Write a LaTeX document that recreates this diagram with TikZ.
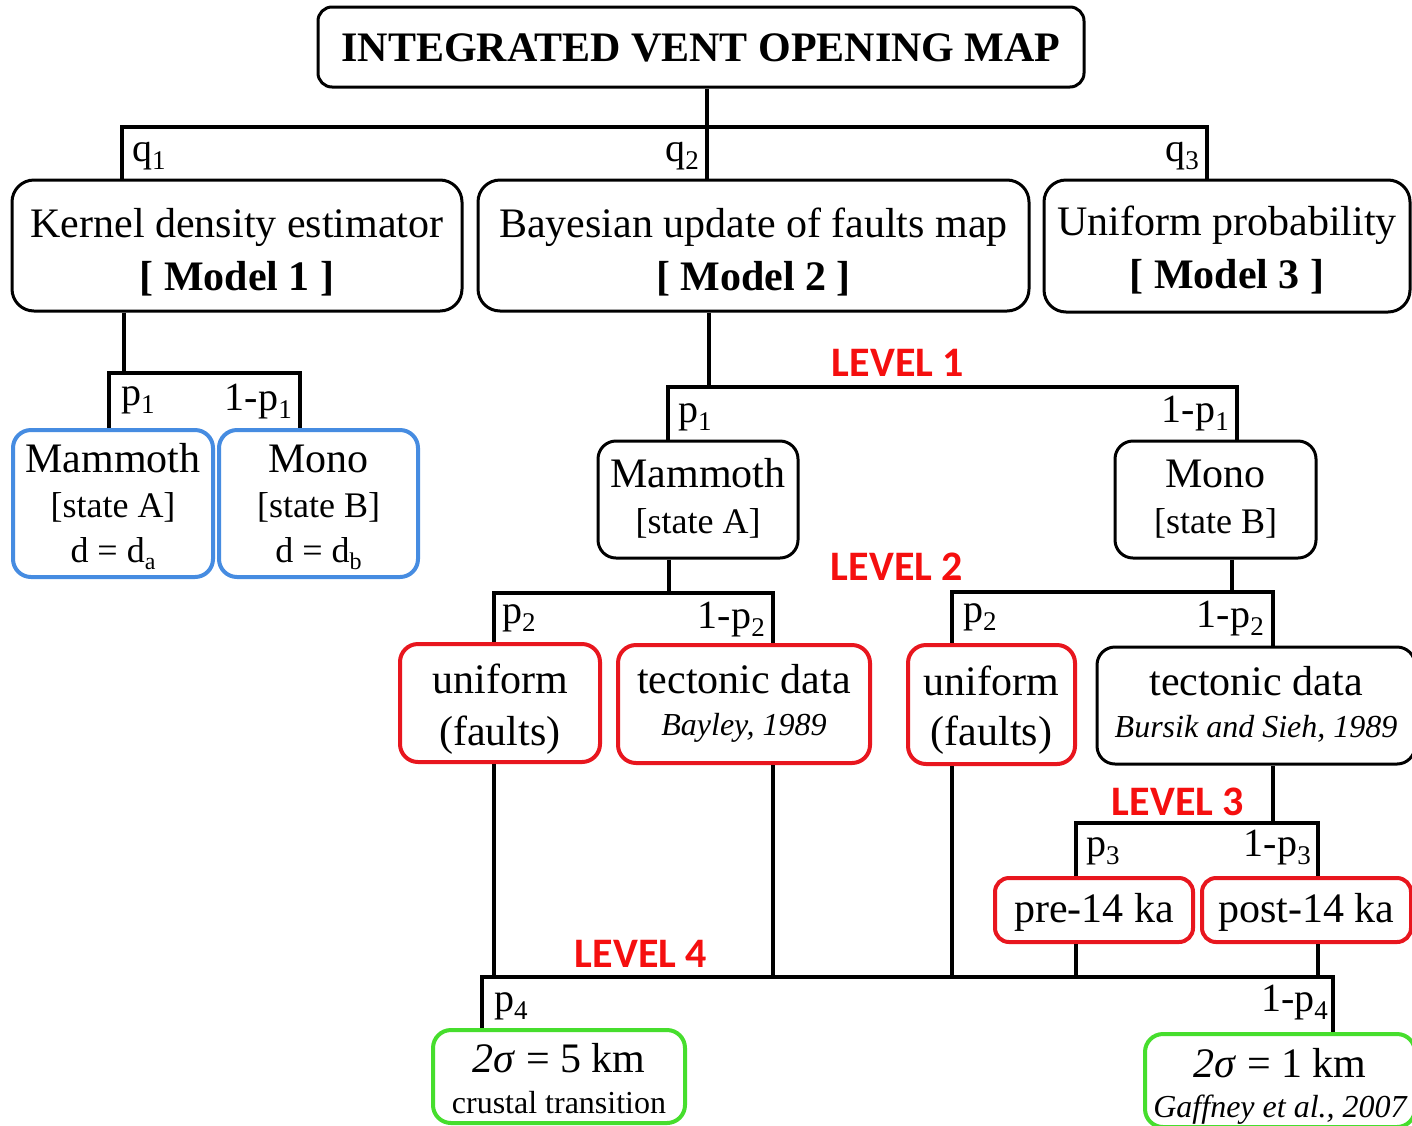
\documentclass[tikz,border=0pt]{standalone}
\usepackage{fontspec}
\setmainfont{Liberation Serif}
\newfontfamily\lvlfont{Carlito}
\usetikzlibrary{calc}

\definecolor{boxblue}{RGB}{70,140,225}
\definecolor{boxred}{RGB}{232,22,30}
\definecolor{boxgreen}{RGB}{70,222,45}
\definecolor{lvlred}{RGB}{245,15,15}

% font size / baseline skip in one go
\newcommand\setfs[2]{\fontsize{#1}{#2}\selectfont}
% lowered index: size, drop, text
\newcommand\lowidx[3]{\raisebox{-#2pt}{\setfs{#1}{#1}#3}}
% invisible struts fixing the top and bottom of a text block
\newcommand\tstrut[1]{\rule{0pt}{#1pt}}
\newcommand\bstrut[1]{\rule[-#1pt]{0pt}{#1pt}}

\begin{document}
\begin{tikzpicture}[x=1pt,y=-1pt,
  conn/.style={line width=4pt},
  boxbase/.style={rectangle, align=center, inner sep=0pt, rounded corners=18pt},
  blackbox/.style={boxbase, draw=black, line width=3pt},
  bluebox/.style={boxbase, draw=boxblue, line width=4pt},
  redbox/.style={boxbase, draw=boxred, line width=4pt},
  greenbox/.style={boxbase, draw=boxgreen, line width=4pt},
  plabel/.style={inner sep=0pt, font=\setfs{40}{40}},
  levellabel/.style={inner sep=0pt, anchor=base, text=lvlred, font=\lvlfont\bfseries\setfs{42}{42}}]

\useasboundingbox (0,0) rectangle (1412,1125);
\fill[white] (0,0) rectangle (1412,1125);
\clip (0,0) rectangle (1412,1125);

% ---------- boxes ----------
\node[blackbox, rounded corners=14pt, minimum width=766pt, minimum height=80pt,
      font=\bfseries\setfs{42}{42}] (title) at (701,47)
      {\tstrut{34}INTEGRATED VENT OPENING MAP\bstrut{6}};

\node[blackbox, rounded corners=22pt, minimum width=450pt, minimum height=131pt,
      font=\setfs{42}{53}] (m1) at (237,245.5)
      {\tstrut{48}Kernel density estimator\\\textbf{[ Model 1 ]}\bstrut{12}};
\node[blackbox, rounded corners=22pt, minimum width=551pt, minimum height=131pt,
      font=\setfs{42}{53}] (m2) at (753.5,245.5)
      {\tstrut{48}Bayesian update of faults map\\\textbf{[ Model 2 ]}\bstrut{12}};
\node[blackbox, rounded corners=22pt, minimum width=366pt, minimum height=132pt,
      font=\setfs{42}{53}] (m3) at (1227,246)
      {\tstrut{43}Uniform probability\\\textbf{[ Model 3 ]}\bstrut{12}};

\node[bluebox, minimum width=200pt, minimum height=147pt, font=\setfs{42}{45}] (mA) at (113,503.5)
      {\tstrut{41}Mammoth\\{\setfs{36}{45}[state A]}\\{\setfs{36}{45}d = d\lowidx{24}{7}{a}}\bstrut{14}};
\node[bluebox, minimum width=199pt, minimum height=147pt, font=\setfs{42}{45}] (mB) at (318.5,503.5)
      {\tstrut{41}Mono\\{\setfs{36}{45}[state B]}\\{\setfs{36}{45}d = d\lowidx{24}{7}{b}}\bstrut{14}};

\node[blackbox, minimum width=200pt, minimum height=117pt, font=\setfs{42}{46}] (m2A) at (698,499.5)
      {\tstrut{31}Mammoth\\{\setfs{36}{46}[state A]}\bstrut{10}};
\node[blackbox, minimum width=201pt, minimum height=117pt, font=\setfs{42}{46}] (m2B) at (1215.5,499.5)
      {\tstrut{31}Mono\\{\setfs{36}{46}[state B]}\bstrut{10}};

\node[redbox, minimum width=200pt, minimum height=118pt, font=\setfs{42}{52}] (u1) at (500,703)
      {\tstrut{44}uniform\\(faults)\bstrut{12}};
\node[redbox, minimum width=252pt, minimum height=118pt, font=\setfs{42}{42}] (t1) at (744,704)
      {\tstrut{32}tectonic data\\{\setfs{32}{42}\itshape Bayley, 1989}\bstrut{12}};
\node[redbox, minimum width=167pt, minimum height=119pt, font=\setfs{42}{50}] (u2) at (991.5,704.5)
      {\tstrut{43}uniform\\(faults)\bstrut{12}};
\node[blackbox, minimum width=318pt, minimum height=117pt, font=\setfs{42}{42}] (t2) at (1256,705.5)
      {\tstrut{33}tectonic data\\{\setfs{32}{42}\itshape Bursik and Sieh, 1989}\bstrut{12}};

\node[redbox, rounded corners=14pt, minimum width=198pt, minimum height=64pt, font=\setfs{42}{42}] (pre) at (1094,910)
      {\tstrut{36}pre-14 ka\bstrut{12}};
\node[redbox, rounded corners=14pt, minimum width=209pt, minimum height=64pt, font=\setfs{42}{42}] (post) at (1306.5,910)
      {\tstrut{36}post-14 ka\bstrut{12}};

\node[greenbox, minimum width=252pt, minimum height=93pt, font=\setfs{42}{41}] (g1) at (559,1076.5)
      {\tstrut{40}\textit{2σ} = 5 km\\{\setfs{32}{41}crustal transition}\bstrut{8}};
\node[greenbox, minimum width=270pt, minimum height=93pt, font=\setfs{42}{40}] (g2) at (1280,1080.5)
      {\tstrut{43}\textit{2σ} = 1 km\\{\setfs{32}{40}\itshape Gaffney et al., 2007}\bstrut{10}};

% ---------- branch points ----------
\coordinate (top) at (707,127);
\coordinate (q1c) at (122,127);
\coordinate (q3c) at (1207,127);
\coordinate (a0) at (124,373);
\coordinate (aL) at (109,373);
\coordinate (aR) at (300,373);
\coordinate (b0) at (709,387);
\coordinate (bL) at (668,387);
\coordinate (bR) at (1237,387);
\coordinate (c0) at (669,593);
\coordinate (cL) at (494,593);
\coordinate (cR) at (773,593);
\coordinate (d0) at (1232,592);
\coordinate (dL) at (952,592);
\coordinate (dR) at (1273,592);
\coordinate (e0) at (1273,823);
\coordinate (eL) at (1076,823);
\coordinate (eR) at (1318,823);
\coordinate (fL) at (482,977);
\coordinate (fR) at (1333,977);

% ---------- connectors ----------
\draw[conn] (title.south -| top) -- (m2.north -| top);
\draw[conn] (m1.north -| q1c) -- (q1c) -- (q3c) -- (m3.north -| q3c);

\draw[conn] (m1.south -| a0) -- (a0);
\draw[conn] (mA.north -| aL) -- (aL) -- (aR) -- (mB.north -| aR);

\draw[conn] (m2.south -| b0) -- (b0);
\draw[conn] (m2A.north -| bL) -- (bL) -- (bR) -- (m2B.north -| bR);

\draw[conn] (m2A.south -| c0) -- (c0);
\draw[conn] (u1.north -| cL) -- (cL) -- (cR) -- (t1.north -| cR);
\draw[conn] (m2B.south -| d0) -- (d0);
\draw[conn] (u2.north -| dL) -- (dL) -- (dR) -- (t2.north -| dR);

\draw[conn] (t2.south -| e0) -- (e0);
\draw[conn] (pre.north -| eL) -- (eL) -- (eR) -- (post.north -| eR);

\draw[conn] (g1.north -| fL) -- (fL) -- (fR) -- (g2.north -| fR);
\draw[conn] (u1.south -| cL) -- (cL |- fL);
\draw[conn] (t1.south -| cR) -- (cR |- fL);
\draw[conn] (u2.south -| dL) -- (dL |- fL);
\draw[conn] (pre.south -| eL) -- (eL |- fL);
\draw[conn] (post.south -| eR) -- (eR |- fL);

% ---------- branch probabilities ----------
\node[plabel, anchor=base west] (lq1) at ($(q1c)+(10,34)$) {q\lowidx{27}{8}{1}};
\node[plabel, anchor=base east] (lq2) at ($(top)+(-8,34)$) {q\lowidx{27}{8}{2}};
\node[plabel, anchor=base east] (lq3) at ($(q3c)+(-8,34)$) {q\lowidx{27}{8}{3}};

\node[plabel, anchor=base west] (la1) at ($(aL)+(12,32)$) {p\lowidx{27}{8}{1}};
\node[plabel, anchor=base east] (la2) at ($(aR)+(-8,37)$) {1-p\lowidx{27}{8}{1}};
\node[plabel, anchor=base west] (lb1) at ($(bL)+(10,35)$) {p\lowidx{27}{8}{1}};
\node[plabel, anchor=base east] (lb2) at ($(bR)+(-8,35)$) {1-p\lowidx{27}{8}{1}};

\node[plabel, anchor=base west] (lc1) at ($(cL)+(8,30)$) {p\lowidx{27}{8}{2}};
\node[plabel, anchor=base east] (lc2) at ($(cR)+(-8,35)$) {1-p\lowidx{27}{8}{2}};
\node[plabel, anchor=base west] (ld1) at ($(dL)+(11,30)$) {p\lowidx{27}{8}{2}};
\node[plabel, anchor=base east] (ld2) at ($(dR)+(-9,35)$) {1-p\lowidx{27}{8}{2}};

\node[plabel, anchor=base west] (le1) at ($(eL)+(10,33)$) {p\lowidx{27}{8}{3}};
\node[plabel, anchor=base east] (le2) at ($(eR)+(-7,33)$) {1-p\lowidx{27}{8}{3}};

\node[plabel, anchor=base west] (lf1) at ($(fL)+(12,34)$) {p\lowidx{27}{8}{4}};
\node[plabel, anchor=base east] (lf2) at ($(fR)+(-5,34)$) {1-p\lowidx{27}{8}{4}};

% ---------- level tags ----------
\node[levellabel] (lev1) at (898,376) {LEVEL 1};
\node[levellabel] (lev2) at (897,580) {LEVEL 2};
\node[levellabel] (lev3) at (1178,815) {LEVEL 3};
\node[levellabel] (lev4) at (641,967) {LEVEL 4};

\end{tikzpicture}
\end{document}
